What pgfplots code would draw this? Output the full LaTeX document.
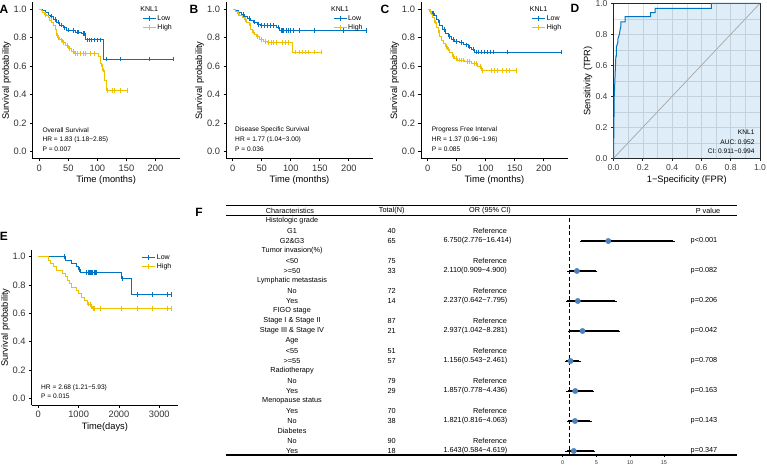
\documentclass[border=0pt]{standalone}
\usepackage{fontspec}
\setmainfont{Liberation Sans}
\usepackage{pgfplots}
\pgfplotsset{compat=1.18}

\definecolor{lowc}{HTML}{0073C2}
\definecolor{highc}{HTML}{EFC000}
\definecolor{ptc}{HTML}{4F81BD}
\newcommand{\fs}[1]{\fontsize{#1}{#1}\selectfont}

\pgfplotsset{
  km/.style={
    scale only axis, width=147pt, height=156.6pt,
    xmin=-11.5, xmax=241.5, ymin=-0.05, ymax=1.05,
    xtick={0,50,100,150,200}, ytick={0,0.2,0.4,0.6,0.8,1},
    axis x line*=bottom, axis y line*=left,
    axis line style={line width=0.8pt, black},
    tick style={line width=0.8pt, black},
    tick align=outside, major tick length=2.5pt,
    /pgf/number format/assume math mode=true,
    yticklabel style={/pgf/number format/fixed, /pgf/number format/fixed zerofill, /pgf/number format/precision=1},
    xticklabel style={/pgf/number format/1000 sep={}},
    scaled x ticks=false,
    tick label style={font=\fs{9.3}, text=black!80},
    label style={font=\fs{9.3}},
    xlabel style={at={(axis description cs:0.5,-0.135)}, anchor=center},
    ylabel style={at={(axis description cs:-0.178,0.5)}, anchor=center},
    xlabel={Time (months)}, ylabel={Survival probability},
    legend cell align=left,
    legend style={draw=none, fill=none, anchor=north west, inner sep=0pt, outer sep=0pt, row sep=0pt, font=\fs{7}, nodes={inner sep=1.2pt}},
    legend image code/.code={\draw[##1, line width=1pt] (0pt,0pt) -- (13pt,0pt); \draw[##1, line width=0.8pt] (6.5pt,-2.3pt) -- (6.5pt,2.3pt);},
    clip=false,
  },
  curve/.style={const plot, line width=0.9pt, mark=none, forget plot},
  cens/.style={only marks, mark=|, mark size=2.3pt, mark options={line width=0.7pt}, forget plot},
}

\newcommand{\tf}{\fs{7.3}}
\newcommand{\grp}[2]{\node[font=\tf] at (292pt,{-(221+10*#1)*1pt}) {#2};}
\newcommand{\refrow}[3]{\node[font=\tf] at (292pt,{-(221+10*#1)*1pt}) {#2};
  \node[font=\tf] at (391.7pt,{-(221+10*#1)*1pt}) {#3};
  \node[font=\tf] at (490pt,{-(221+10*#1)*1pt}) {Reference};}
\newcommand{\valrow}[5]{\node[font=\tf] at (292pt,{-(221+10*#1)*1pt}) {#2};
  \node[font=\tf] at (391.7pt,{-(221+10*#1)*1pt}) {#3};
  \node[font=\tf, anchor=west, inner sep=0pt] at (443.3pt,{-(221+10*#1)*1pt}) {#4};
  \node[font=\tf] at (704pt,{-(221+10*#1)*1pt}) {#5};}

\begin{document}
\begin{tikzpicture}
\path[use as bounding box] (0,0) rectangle (767pt,-467pt);

% ---------------- A ----------------
\begin{axis}[km, at={(32.6pt,-2.2pt)}, anchor=north west, legend style={at={(0.746,0.979)}}]
\addplot[curve, lowc] coordinates {(0,1)(5,0.99)(10,0.975)(15,0.96)(20,0.95)(25,0.93)(30,0.91)(35,0.89)(42,0.87)(46,0.855)(55,0.85)(63,0.84)(72,0.83)(80,0.785)(111,0.65)(230,0.65)};
\addplot[cens, lowc] coordinates {(20,0.95)(28,0.93)(33,0.91)(38,0.89)(44,0.87)(50,0.855)(58,0.85)(65,0.84)(68,0.84)(75,0.83)(78,0.83)(83,0.785)(86,0.785)(90,0.785)(95,0.785)(100,0.785)(105,0.785)(115,0.65)(140,0.65)(190,0.65)(230,0.65)};
\addplot[curve, highc] coordinates {(0,1)(3,0.99)(6,0.98)(9,0.965)(12,0.955)(15,0.94)(18,0.925)(21,0.905)(24,0.89)(27,0.86)(29,0.83)(32,0.8)(35,0.785)(40,0.765)(45,0.745)(50,0.725)(55,0.705)(60,0.69)(102,0.667)(105,0.62)(107,0.6)(109,0.574)(112,0.5)(115,0.43)(152,0.43)};
\addplot[cens, highc] coordinates {(10,0.965)(20,0.925)(30,0.83)(33,0.8)(38,0.785)(42,0.765)(48,0.745)(52,0.725)(58,0.705)(62,0.69)(66,0.69)(70,0.69)(75,0.69)(80,0.69)(88,0.69)(95,0.69)(108,0.6)(110,0.574)(118,0.43)(125,0.43)(130,0.43)(140,0.43)(152,0.43)};
\addlegendimage{empty legend}\addlegendentry{\hspace*{-17pt}KNL1}
\addlegendimage{lowc}\addlegendentry{Low}
\addlegendimage{highc}\addlegendentry{High}
\end{axis}
\node[anchor=west, font=\fs{6.6}] at (39pt,-130pt) {Overall Survival};
\node[anchor=west, font=\fs{6.6}] at (39pt,-140pt) {HR = 1.83 (1.18−2.85)};
\node[anchor=west, font=\fs{6.6}] at (39pt,-149pt) {P = 0.007};

% ---------------- B ----------------
\begin{axis}[km, at={(226pt,-2.2pt)}, anchor=north west, legend style={at={(0.728,0.979)}}]
\addplot[curve, lowc] coordinates {(0,1)(5,0.99)(10,0.975)(15,0.965)(20,0.95)(25,0.935)(30,0.92)(35,0.91)(42,0.895)(47,0.885)(75,0.875)(81,0.85)(230,0.85)};
\addplot[cens, lowc] coordinates {(18,0.965)(28,0.935)(38,0.91)(45,0.895)(50,0.885)(55,0.885)(60,0.885)(65,0.885)(70,0.885)(78,0.875)(83,0.85)(85,0.85)(88,0.85)(92,0.85)(96,0.85)(100,0.85)(105,0.85)(115,0.85)(140,0.85)(190,0.85)(230,0.85)};
\addplot[curve, highc] coordinates {(0,1)(4,0.985)(8,0.97)(12,0.96)(16,0.945)(20,0.93)(24,0.91)(28,0.885)(31,0.86)(34,0.84)(38,0.82)(41,0.81)(46,0.79)(53,0.773)(60,0.766)(103,0.7)(152,0.7)};
\addplot[cens, highc] coordinates {(10,0.97)(22,0.93)(30,0.885)(36,0.84)(43,0.81)(50,0.79)(56,0.773)(62,0.766)(66,0.766)(70,0.766)(76,0.766)(85,0.766)(90,0.766)(95,0.766)(108,0.7)(115,0.7)(120,0.7)(125,0.7)(130,0.7)(140,0.7)(152,0.7)};
\addlegendimage{empty legend}\addlegendentry{\hspace*{-17pt}KNL1}
\addlegendimage{lowc}\addlegendentry{Low}
\addlegendimage{highc}\addlegendentry{High}
\end{axis}
\node[anchor=west, font=\fs{6.6}] at (231.7pt,-130pt) {Disease Specific Survival};
\node[anchor=west, font=\fs{6.6}] at (231.7pt,-140pt) {HR = 1.77 (1.04−3.00)};
\node[anchor=west, font=\fs{6.6}] at (231.7pt,-149pt) {P = 0.036};

% ---------------- C ----------------
\begin{axis}[km, at={(420.95pt,-2.2pt)}, anchor=north west, legend style={at={(0.753,0.979)}}]
\addplot[curve, lowc] coordinates {(0,1)(4,0.985)(8,0.97)(12,0.955)(15,0.93)(18,0.91)(21,0.89)(25,0.86)(30,0.83)(35,0.81)(41,0.79)(47,0.775)(55,0.765)(62,0.75)(70,0.735)(75,0.72)(81,0.7)(230,0.7)};
\addplot[cens, lowc] coordinates {(10,0.97)(20,0.91)(28,0.86)(38,0.81)(44,0.79)(50,0.775)(58,0.765)(66,0.75)(72,0.735)(78,0.72)(84,0.7)(87,0.7)(92,0.7)(97,0.7)(102,0.7)(108,0.7)(113,0.7)(138,0.7)(230,0.7)};
\addplot[curve, highc] coordinates {(0,1)(3,0.985)(6,0.965)(9,0.94)(12,0.91)(15,0.87)(18,0.84)(21,0.81)(24,0.78)(27,0.76)(30,0.74)(34,0.72)(38,0.695)(42,0.67)(47,0.655)(52,0.644)(64,0.632)(75,0.62)(86,0.597)(92,0.569)(152,0.569)};
\addplot[cens, highc] coordinates {(5,0.985)(14,0.91)(20,0.84)(32,0.74)(36,0.72)(45,0.67)(50,0.655)(55,0.644)(58,0.644)(62,0.644)(68,0.632)(72,0.632)(80,0.62)(84,0.62)(90,0.597)(95,0.569)(110,0.569)(115,0.569)(120,0.569)(128,0.569)(135,0.569)(140,0.569)(152,0.569)};
\addlegendimage{empty legend}\addlegendentry{\hspace*{-17pt}KNL1}
\addlegendimage{lowc}\addlegendentry{Low}
\addlegendimage{highc}\addlegendentry{High}
\end{axis}
\node[anchor=west, font=\fs{6.6}] at (428.3pt,-130pt) {Progress Free Interval};
\node[anchor=west, font=\fs{6.6}] at (428.3pt,-140pt) {HR = 1.37 (0.96−1.96)};
\node[anchor=west, font=\fs{6.6}] at (428.3pt,-149pt) {P = 0.085};

% ---------------- D ----------------
\begin{axis}[scale only axis, at={(613.5pt,-3.3pt)}, anchor=north west, width=146.5pt, height=155pt,
  xmin=0, xmax=1, ymin=0, ymax=1,
  xtick={0,0.2,0.4,0.6,0.8,1}, ytick={0,0.2,0.4,0.6,0.8,1}, minor tick num=1,
  grid=both, major grid style={black!12, line width=0.5pt}, minor grid style={black!12, line width=0.5pt},
  tick pos=left, tick align=outside, major tick length=2.5pt, minor tick length=0pt,
  axis line style={line width=0.7pt, black!85}, tick style={line width=0.7pt, black!85},
  /pgf/number format/assume math mode=true,
  ticklabel style={/pgf/number format/fixed, /pgf/number format/fixed zerofill, /pgf/number format/precision=1},
  tick label style={font=\fs{8.6}, text=black!75},
  label style={font=\fs{9.3}},
  xlabel={1−Specificity (FPR)}, ylabel={Sensitivity (TPR)},
  xlabel style={at={(axis description cs:0.5,-0.14)}, anchor=center},
  ylabel style={at={(axis description cs:-0.174,0.5)}, anchor=center},
  clip=false]
\addplot[fill=lowc, fill opacity=0.13, draw=none] coordinates {(0,0)(0.005,0.4)(0.016,0.66)(0.02,0.66)(0.02,0.72)(0.03,0.75)(0.03,0.77)(0.04,0.8)(0.045,0.83)(0.05,0.85)(0.05,0.88)(0.08,0.88)(0.08,0.914)(0.254,0.914)(0.254,0.94)(0.284,0.94)(0.284,0.968)(0.668,0.968)(0.668,1)(1,1)(1,0)} -- cycle;
\addplot[black!35, line width=0.7pt] coordinates {(0,0)(1,1)};
\addplot[lowc, line width=1pt] coordinates {(0,0)(0.005,0.4)(0.016,0.66)(0.02,0.66)(0.02,0.72)(0.03,0.75)(0.03,0.77)(0.04,0.8)(0.045,0.83)(0.05,0.85)(0.05,0.88)(0.08,0.88)(0.08,0.914)(0.254,0.914)(0.254,0.94)(0.284,0.94)(0.284,0.968)(0.668,0.968)(0.668,1)(1,1)};
\end{axis}
\node[anchor=east, font=\fs{6.6}] at (758pt,-132pt) {KNL1};
\node[anchor=east, font=\fs{6.6}] at (758pt,-142pt) {AUC: 0.952};
\node[anchor=east, font=\fs{6.6}] at (758pt,-151pt) {CI: 0.911−0.994};

% ---------------- E ----------------
\begin{axis}[km, at={(31.65pt,-249.6pt)}, anchor=north west, width=146.4pt, height=155.8pt,
  xmin=-165, xmax=3465, xtick={0,1000,2000,3000}, xlabel={Time(days)},
  xlabel style={at={(axis description cs:0.5,-0.137)}, anchor=center},
  legend style={at={(0.752,0.977)}}]
\addplot[curve, lowc] coordinates {(0,1)(661,0.976)(827,0.953)(951,0.93)(1000,0.91)(1033,0.89)(2066,0.847)(2298,0.734)(3300,0.734)};
\addplot[cens, lowc] coordinates {(640,1)(1010,0.91)(1200,0.89)(1230,0.89)(1260,0.89)(1290,0.89)(1320,0.89)(1350,0.89)(1380,0.89)(1410,0.89)(1440,0.89)(2080,0.847)(2450,0.734)(2820,0.734)(3200,0.734)(3300,0.734)};
\addplot[curve, highc] coordinates {(0,1)(250,0.976)(300,0.952)(370,0.928)(450,0.905)(600,0.881)(680,0.857)(720,0.833)(760,0.81)(820,0.786)(950,0.762)(1000,0.738)(1060,0.714)(1150,0.69)(1230,0.666)(1300,0.65)(1350,0.635)(3300,0.635)};
\addplot[cens, highc] coordinates {(1250,0.666)(1280,0.666)(1320,0.65)(1360,0.635)(1400,0.635)(1550,0.635)(2070,0.635)(2450,0.635)(2820,0.635)(3200,0.635)(3300,0.635)};
\addlegendimage{lowc}\addlegendentry{Low}
\addlegendimage{highc}\addlegendentry{High}
\end{axis}
\node[anchor=west, font=\fs{6.6}] at (37.7pt,-387.3pt) {HR = 2.68 (1.21−5.93)};
\node[anchor=west, font=\fs{6.6}] at (37.7pt,-396.7pt) {P = 0.015};

% ---------------- F ----------------
\begin{axis}[scale only axis, at={(226pt,-205.7pt)}, anchor=north west, width=510.7pt, height=249.3pt,
  xmin=-49.88, xmax=25.78, ymin=205.7, ymax=455, y dir=reverse,
  axis x line*=bottom, axis y line=none, xtick={0,5,10,15},
  tick align=outside, major tick length=2pt,
  axis line style={line width=1.1pt, black}, tick style={line width=0.7pt, black},
  /pgf/number format/assume math mode=true,
  tick label style={font=\fs{5.5}, text=black!80}, clip=false]
\addplot[black, line width=1.1pt, dash pattern=on 4pt off 2.5pt] coordinates {(1,218)(1,455)};
\addplot[only marks, mark=*, mark size=2.7pt, color=ptc,
  error bars/.cd, x dir=both, x explicit,
  error bar style={black, line width=1.1pt},
  error mark options={black, line width=0.9pt, mark size=1.5pt}]
  coordinates {
  (6.750,241) += (9.664,0) -= (3.974,0)
  (2.110,271) += (2.790,0) -= (1.201,0)
  (2.237,301) += (5.558,0) -= (1.595,0)
  (2.937,331) += (5.344,0) -= (1.895,0)
  (1.156,361) += (1.305,0) -= (0.613,0)
  (1.857,391) += (2.579,0) -= (1.079,0)
  (1.821,421) += (2.242,0) -= (1.005,0)
  (1.643,451) += (2.976,0) -= (1.059,0)
  };
\end{axis}
\draw[line width=0.9pt] (226pt,-205.7pt) -- (736.7pt,-205.7pt);
\draw[line width=0.9pt] (226pt,-215.7pt) -- (736.7pt,-215.7pt);
\node[font=\tf] at (290pt,-211pt) {Characteristics};
\node[font=\tf] at (391.7pt,-211pt) {Total(N)};
\node[font=\tf] at (490pt,-211pt) {OR (95\% CI)};
\node[font=\tf] at (708pt,-211pt) {P value};
\grp{0}{Histologic grade}
\refrow{1}{G1}{40}
\valrow{2}{G2\&G3}{65}{6.750(2.776−16.414)}{p<0.001}
\grp{3}{Tumor invasion(\%)}
\refrow{4}{<50}{75}
\valrow{5}{>=50}{33}{2.110(0.909−4.900)}{p=0.082}
\grp{6}{Lymphatic metastasis}
\refrow{7}{No}{72}
\valrow{8}{Yes}{14}{2.237(0.642−7.795)}{p=0.206}
\grp{9}{FIGO stage}
\refrow{10}{Stage I \& Stage II}{87}
\valrow{11}{Stage III \& Stage IV}{21}{2.937(1.042−8.281)}{p=0.042}
\grp{12}{Age}
\refrow{13}{<55}{51}
\valrow{14}{>=55}{57}{1.156(0.543−2.461)}{p=0.708}
\grp{15}{Radiotherapy}
\refrow{16}{No}{79}
\valrow{17}{Yes}{29}{1.857(0.778−4.436)}{p=0.163}
\grp{18}{Menopause status}
\refrow{19}{Yes}{70}
\valrow{20}{No}{38}{1.821(0.816−4.063)}{p=0.143}
\grp{21}{Diabetes}
\refrow{22}{No}{90}
\valrow{23}{Yes}{18}{1.643(0.584−4.619)}{p=0.347}

% ---------------- panel letters ----------------
\node[font=\bfseries\fs{12}] at (4pt,-9pt) {A};
\node[font=\bfseries\fs{12}] at (194pt,-9pt) {B};
\node[font=\bfseries\fs{12}] at (385pt,-9pt) {C};
\node[font=\bfseries\fs{12}] at (575pt,-8pt) {D};
\node[font=\bfseries\fs{12}] at (4pt,-236pt) {E};
\node[font=\bfseries\fs{12}] at (199pt,-212pt) {F};
\end{tikzpicture}
\end{document}
